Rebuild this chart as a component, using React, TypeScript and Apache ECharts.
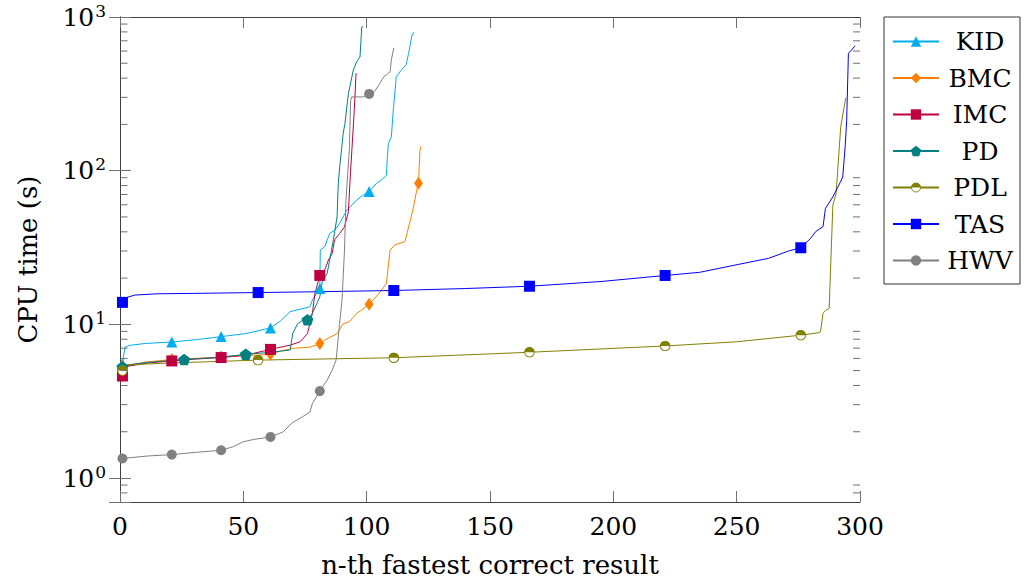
import React, { useEffect, useRef } from "react";
import * as echarts from "echarts";

// ---- data: [n-th result, CPU time (s)] ----
const kidData: [number, number][] = [
  [1, 5.55], [2, 7.1], [4, 7.3], [10, 7.5], [21, 7.68], [31, 7.95], [41, 8.32], [51, 8.7],
  [61, 9.48], [65, 10.5], [69, 12.1], [77, 13.0], [78, 14.4], [81, 17.1], [81.2, 30.5],
  [83, 32], [85, 39], [87, 41], [89, 45.3], [92, 55.5], [96, 64.5], [98.6, 69.6], [101, 73.1],
  [104, 82.7], [106, 86.8], [108, 93.5], [108.4, 123], [108.8, 150], [110, 166], [110.8, 249],
  [112, 410], [114, 450], [116, 490], [117, 580], [118.3, 750], [119, 795],
];
const bmcData: [number, number][] = [
  [1, 5.3], [11, 5.7], [21, 5.9], [41, 6.12], [61, 6.38], [65, 6.7], [70, 6.98], [77, 7.1],
  [81, 7.5], [83, 7.9], [88, 8.7], [90.5, 10.1], [93, 10.4], [96, 11.8], [98, 12.4], [101, 13.5],
  [105, 15.9], [108, 18.5], [109.5, 30.5], [111.5, 32.9], [115.5, 34.5], [116, 37], [119, 58],
  [120.3, 74.8], [121, 82.7], [121.6, 136], [122, 144],
];
const imcData: [number, number][] = [
  [1, 4.61], [3, 5.33], [11, 5.6], [21, 5.78], [31, 5.95], [41, 6.08], [51, 6.3], [61, 6.87],
  [69, 7.32], [73, 7.7], [76, 8.7], [78, 11.8], [79, 15.8], [81, 20.8], [83, 22.6], [84.5, 26.2],
  [86, 28.9], [87, 35.5], [89, 39], [91, 43], [92.6, 54], [93.2, 83], [94, 136], [95, 250],
  [95.7, 432],
];
const pdData: [number, number][] = [
  [1, 5.28], [3, 5.45], [11, 5.65], [26, 5.9], [40, 6.1], [51, 6.38], [60, 6.55], [69, 6.8],
  [70, 8.7], [72, 10.1], [74, 10.6], [76, 10.7], [78, 11.8], [81, 15.1], [82, 19], [84, 21.5],
  [85, 26.2], [86.5, 35.5], [88, 50], [88.5, 83], [89.2, 111], [90.5, 175], [91.2, 203],
  [92.6, 318], [94.6, 452], [96, 515], [97.3, 550], [98, 860], [98.6, 870],
];
const pdlData: [number, number][] = [
  [1, 5.0], [3, 5.45], [20, 5.6], [56, 5.85], [111, 6.06], [166, 6.58], [221, 7.23], [250, 7.7],
  [276, 8.5], [283, 8.8], [284, 8.93], [285, 11.8], [286, 12.3], [287.5, 12.7], [289, 59.8],
  [290.3, 71], [292.2, 194], [294.2, 297],
];
const tasData: [number, number][] = [
  [1, 13.9], [3, 15.0], [6, 15.5], [15, 15.8], [30, 15.9], [56, 16.1], [80, 16.3], [111, 16.6],
  [140, 17.1], [166, 17.7], [195, 19.0], [221, 20.8], [235, 21.8], [251, 24.6], [263, 26.9],
  [271, 30.0], [276, 31.5], [280, 36.3], [282, 40.1], [285, 43.2], [286, 56.9], [289, 67.6],
  [292, 84], [293, 91], [294, 144], [294.6, 213], [295.3, 580], [296.6, 611], [298, 650],
];
const hwvData: [number, number][] = [
  [1, 1.34], [11, 1.39], [21, 1.42], [31, 1.47], [41, 1.515], [46, 1.6], [50, 1.72], [54, 1.78],
  [61, 1.85], [66, 1.99], [70, 2.3], [74, 2.5], [77, 2.69], [78, 3.05], [81, 3.68], [84, 4.33],
  [86, 5.03], [87.6, 5.85], [89, 10], [90, 14.4], [91, 30], [91.6, 64], [93, 140], [93.5, 287],
  [94, 302], [98.6, 302], [101, 316], [103, 325], [105, 362], [107, 410], [108, 420],
  [109.5, 440], [110, 525], [111, 630],
];

const seriesNames = ["KID", "BMC", "IMC", "PD", "PDL", "TAS", "HWV"];
const seriesColors = ["#00AEEF", "#FF8000", "#BF0040", "#008080", "#808000", "#0000FF", "#808080"];
const markEvery = [20, 20, 20, 25, 55, 55, 20];
const xTicks = [0, 50, 100, 150, 200, 250, 300];
const yMinorTicks = [0.8, 0.9, 2, 3, 4, 5, 6, 7, 8, 9, 20, 30, 40, 50, 60, 70, 80, 90, 200, 300, 400, 500, 600, 700, 800, 900];

const FONT = "DejaVu Serif";
const FS = 25;
const NAME_FS = 26;

const pentagon = "path://M0,-1L0.951,-0.309L0.588,0.809L-0.588,0.809L-0.951,-0.309Z";
const halfCircle =
  "image://data:image/svg+xml;utf8," +
  encodeURIComponent(
    "<svg xmlns='http://www.w3.org/2000/svg' width='24' height='24' viewBox='0 0 24 24'>" +
      "<circle cx='12' cy='12' r='10.5' fill='white' stroke='#808000' stroke-width='2.2'/>" +
      "<path d='M1.5,12 A10.5,10.5 0 0 1 22.5,12 Z' fill='#808000'/></svg>"
  );
const symbols: any[] = ["triangle", "diamond", "rect", pentagon, halfCircle, "rect", "circle"];
const symbolSizes: any[] = [11, [9, 13], 11, 12, 11, 11, 10];

export default function App() {
  const ref = useRef<HTMLDivElement>(null);
  useEffect(() => {
    if (!ref.current) return;
    const chart = echarts.init(ref.current, undefined, { renderer: "svg" });
    const datasets = [kidData, bmcData, imcData, pdData, pdlData, tasData, hwvData];
    const lineSeries = datasets.map((d, i) => ({
      name: seriesNames[i],
      type: "line",
      data: d,
      xAxisIndex: 0,
      yAxisIndex: 0,
      symbol: symbols[i],
      symbolKeepAspect: true,
      showSymbol: true,
      showAllSymbol: true,
      symbolSize: (val: number[]) => {
        const x = val[0];
        return Number.isInteger(x) && (x - 1) % markEvery[i] === 0 ? symbolSizes[i] : 0;
      },
      lineStyle: { color: seriesColors[i], width: 1 },
      itemStyle: { color: seriesColors[i], borderWidth: 0 },
      emphasis: { disabled: true },
    }));
    const minorSeries = {
      type: "custom",
      xAxisIndex: 0,
      yAxisIndex: 0,
      silent: true,
      clip: false,
      z: 5,
      data: yMinorTicks.map((v) => [150, v]),
      renderItem: (_p: any, api: any) => {
        const v = api.value(1);
        const a = api.coord([0, v]);
        const b = api.coord([300, v]);
        const st = { stroke: "#707070", lineWidth: 1, fill: null };
        return {
          type: "group",
          children: [
            { type: "line", shape: { x1: a[0] + 0.5, y1: a[1], x2: a[0] + 7.5, y2: a[1] }, style: st },
            { type: "line", shape: { x1: b[0] - 7, y1: b[1], x2: b[0], y2: b[1] }, style: st },
          ],
        };
      },
    };
    const isPow10 = (v: number) => {
      const l = Math.log10(v);
      return Math.abs(l - Math.round(l)) < 1e-6;
    };
    const axisLineStyle = { color: "#404040", width: 1 };
    const tickStyle = { color: "#707070", width: 1 };
    const yAxisBase = {
      type: "log",
      logBase: 10,
      min: 0.698,
      max: 1000,
      splitLine: { show: false },
      axisLine: { show: true, lineStyle: axisLineStyle },
      axisTick: { show: true, inside: true, length: 11, lineStyle: tickStyle },
    };
    const xAxisBase = {
      type: "value",
      min: 0,
      max: 300,
      interval: 50,
      splitLine: { show: false },
      axisLine: { show: true, lineStyle: axisLineStyle },
      axisTick: { show: true, inside: true, length: 11, lineStyle: tickStyle },
    };
    chart.setOption({
      animation: false,
      backgroundColor: "#ffffff",
      textStyle: { fontFamily: FONT },
      grid: { left: 120, right: 168, top: 17, bottom: 84, outerBoundsMode: "none", containLabel: false },
      xAxis: [
        {
          ...xAxisBase,
          position: "bottom",
          name: "n-th fastest correct result",
          nameLocation: "middle",
          nameGap: 50,
          nameTextStyle: { fontFamily: FONT, fontSize: NAME_FS, color: "#000" },
          axisLabel: {
            margin: 12,
            fontFamily: FONT,
            fontSize: FS,
            color: "#000",
            formatter: (v: number) => (xTicks.includes(v) ? String(v) : ""),
          },
        },
        { ...xAxisBase, position: "top", axisLabel: { show: false } },
      ],
      yAxis: [
        {
          ...yAxisBase,
          position: "left",
          name: "CPU time (s)",
          nameLocation: "middle",
          nameRotate: 90,
          nameGap: 79,
          nameTextStyle: { fontFamily: FONT, fontSize: NAME_FS, color: "#000" },
          axisLabel: {
            margin: 14,
            fontFamily: FONT,
            color: "#000",
            formatter: (v: number) => (isPow10(v) ? `{b|10}{s|${Math.round(Math.log10(v))}}` : ""),
            rich: {
              b: { fontFamily: FONT, fontSize: FS, color: "#000" },
              s: { fontFamily: FONT, fontSize: 17, color: "#000", padding: [0, 0, 13, 1] },
            },
          },
        },
        { ...yAxisBase, position: "right", axisLabel: { show: false } },
      ],
      legend: {
        data: seriesNames,
        orient: "vertical",
        left: 884,
        top: 17,
        padding: [12, 4, 11, 8],
        itemGap: 11.5,
        itemWidth: 46,
        itemHeight: 13,
        borderColor: "#333",
        borderWidth: 1,
        backgroundColor: "#fff",
        selectedMode: false,
        formatter: (name: string) => `{t|${name}}`,
        textStyle: {
          fontFamily: FONT,
          fontSize: FS,
          color: "#000",
          rich: { t: { fontFamily: FONT, fontSize: FS, width: 72, align: "center", lineHeight: 26, color: "#000" } },
        },
      },
      series: [...lineSeries, minorSeries],
    } as any);
    return () => chart.dispose();
  }, []);
  return <div ref={ref} style={{ position: "fixed", left: 0, top: 0, width: 1028, height: 586 }} />;
}
